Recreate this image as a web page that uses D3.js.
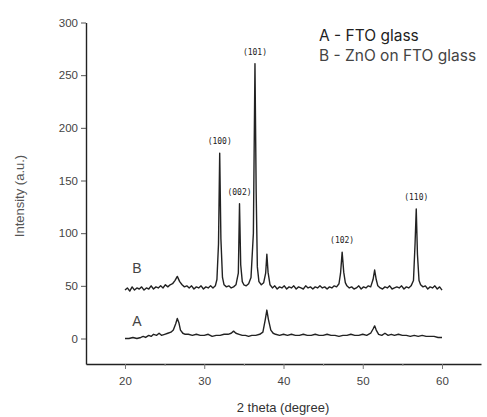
<!DOCTYPE html>
<html>
<head>
<meta charset="utf-8">
<script src="https://cdn.jsdelivr.net/npm/d3@7"></script>
<style>
  body { margin: 0; background: #fff; }
  svg { display: block; font-family: "Liberation Sans", Arial, sans-serif; }
</style>
</head>
<body>
<div id="chart"></div>
<script>
"use strict";

// === DATA: [2 theta, intensity] ===
const seriesA = [
  [20.0, 0], [20.5, 0], [21.0, 1], [21.5, 0], [22.0, 1], [22.3, 2], [22.6, 1], [23.0, 3],
  [23.3, 2], [23.6, 4], [24.0, 3], [24.3, 5], [24.6, 3], [25.0, 4], [25.4, 5], [25.8, 6],
  [26.1, 8], [26.4, 14], [26.6, 19], [26.8, 15], [27.0, 8], [27.3, 5], [27.6, 4], [28.0, 4],
  [28.5, 3], [29.0, 4], [29.5, 3], [30.0, 3], [30.5, 4], [31.0, 2], [31.5, 3], [32.0, 3],
  [32.5, 4], [33.0, 4], [33.4, 5], [33.7, 7], [34.0, 5], [34.4, 4], [34.8, 3], [35.2, 3],
  [35.6, 2], [36.0, 3], [36.5, 3], [37.0, 4], [37.4, 6], [37.7, 18], [37.9, 27], [38.1, 18],
  [38.4, 8], [38.7, 5], [39.0, 4], [39.5, 3], [40.0, 4], [40.5, 3], [41.0, 4], [41.5, 3],
  [42.0, 3], [42.5, 4], [43.0, 3], [43.5, 3], [44.0, 4], [44.5, 3], [45.0, 3], [45.5, 4],
  [46.0, 3], [46.5, 3], [47.0, 2], [47.5, 3], [48.0, 3], [48.5, 4], [49.0, 3], [49.5, 3],
  [50.0, 4], [50.5, 3], [51.0, 5], [51.3, 9], [51.5, 12], [51.7, 8], [52.0, 4], [52.4, 3],
  [52.8, 5], [53.2, 3], [53.6, 4], [54.0, 3], [54.5, 4], [55.0, 3], [55.5, 3], [56.0, 2],
  [56.5, 3], [57.0, 2], [57.5, 3], [58.0, 2], [58.5, 2], [59.0, 2], [59.5, 1], [60.0, 1]
];

const seriesB = [
  [20.0, 46], [20.3, 48], [20.6, 45], [20.9, 49], [21.2, 46], [21.5, 48], [21.8, 47], [22.1, 49],
  [22.4, 46], [22.7, 48], [23.0, 47], [23.3, 50], [23.6, 47], [23.9, 49], [24.2, 48], [24.5, 50],
  [24.8, 48], [25.1, 51], [25.4, 49], [25.7, 51], [26.0, 52], [26.3, 55], [26.6, 59], [26.9, 54],
  [27.2, 51], [27.5, 49], [27.8, 50], [28.1, 48], [28.4, 50], [28.7, 47], [29.0, 49], [29.3, 48],
  [29.6, 50], [29.9, 47], [30.2, 49], [30.5, 48], [30.8, 50], [31.1, 48], [31.4, 50], [31.6, 56],
  [31.8, 90], [31.95, 176], [32.1, 95], [32.3, 58], [32.5, 51], [32.8, 49], [33.1, 50], [33.4, 48],
  [33.7, 49], [34.0, 51], [34.3, 62], [34.45, 128], [34.6, 70], [34.8, 54], [35.0, 51], [35.3, 50],
  [35.6, 52], [35.9, 58], [36.2, 100], [36.4, 261], [36.55, 140], [36.7, 68], [36.9, 54], [37.2, 51],
  [37.5, 53], [37.75, 62], [37.9, 80], [38.05, 63], [38.3, 51], [38.6, 48], [38.9, 50], [39.2, 47],
  [39.5, 49], [39.8, 48], [40.1, 50], [40.4, 47], [40.7, 49], [41.0, 48], [41.3, 50], [41.6, 47],
  [41.9, 49], [42.2, 48], [42.5, 47], [42.8, 50], [43.1, 48], [43.4, 49], [43.7, 47], [44.0, 49],
  [44.3, 48], [44.6, 50], [44.9, 48], [45.2, 49], [45.5, 47], [45.8, 49], [46.1, 48], [46.4, 50],
  [46.7, 49], [47.0, 52], [47.2, 62], [47.4, 82], [47.6, 63], [47.8, 53], [48.0, 50], [48.3, 48],
  [48.6, 49], [48.9, 47], [49.2, 48], [49.5, 50], [49.8, 47], [50.1, 49], [50.4, 48], [50.7, 50],
  [51.0, 49], [51.3, 56], [51.5, 65], [51.7, 56], [51.9, 50], [52.2, 48], [52.5, 47], [52.8, 49],
  [53.1, 48], [53.4, 50], [53.7, 47], [54.0, 48], [54.3, 49], [54.6, 48], [54.9, 50], [55.2, 47],
  [55.5, 49], [55.8, 48], [56.1, 50], [56.4, 55], [56.6, 90], [56.75, 123], [56.9, 80], [57.1, 55],
  [57.3, 51], [57.6, 49], [57.9, 50], [58.2, 47], [58.5, 49], [58.8, 48], [59.1, 50], [59.4, 47],
  [59.7, 49], [60.0, 46]
];

// peak labels: [label, 2 theta, intensity of peak]
const peakLabels = [
  ["(100)", 31.95, 176],
  ["(002)", 34.45, 128],
  ["(101)", 36.4, 261],
  ["(102)", 47.4, 82],
  ["(110)", 56.75, 123]
];

const xTicks = [20, 30, 40, 50, 60];
const xMinorTicks = [25, 35, 45, 55];
const yTicks = [0, 50, 100, 150, 200, 250, 300];
const legendLines = ["A - FTO glass", "B - ZnO on FTO glass"];

// === SVG SETUP ===
const width = 487, height = 417;

const svg = d3.select("#chart")
  .append("svg")
  .attr("width", width)
  .attr("height", height);

// === SCALES ===
const x = d3.scaleLinear().domain([15.08, 64.92]).range([86, 481]);
const y = d3.scaleLinear().domain([-24.2, 300]).range([364, 22.5]);

// === AXES ===
const yAxis = svg.append("g")
  .attr("transform", "translate(86,0)")
  .call(d3.axisLeft(y).tickValues(yTicks).tickSize(5).tickSizeOuter(0).tickPadding(3));
yAxis.select(".domain").attr("stroke", "#222").attr("stroke-width", 1.4);
yAxis.selectAll(".tick line").attr("stroke", "#555");
yAxis.selectAll(".tick text").attr("fill", "#444").style("font-size", "11.5px");

const xAxis = svg.append("g")
  .attr("transform", "translate(0,364)")
  .call(d3.axisBottom(x).tickValues(xTicks).tickSize(5).tickSizeOuter(0).tickPadding(8));
xAxis.select(".domain").attr("stroke", "#222").attr("stroke-width", 1.4);
xAxis.selectAll(".tick line").attr("stroke", "#777");
xAxis.selectAll(".tick text").attr("fill", "#444").style("font-size", "11.5px");

svg.append("g")
  .attr("transform", "translate(0,364)")
  .call(d3.axisBottom(x).tickValues(xMinorTicks).tickSize(2).tickFormat(""))
  .call(g => g.select(".domain").remove())
  .selectAll(".tick line").attr("stroke", "#999");

// === AXIS TITLES ===
svg.append("text")
  .attr("x", 283)
  .attr("y", 412)
  .attr("text-anchor", "middle")
  .attr("fill", "#333")
  .style("font-size", "13px")
  .text("2 theta (degree)");

svg.append("text")
  .attr("transform", "translate(24,196) rotate(-90)")
  .attr("text-anchor", "middle")
  .attr("fill", "#555")
  .style("font-size", "13px")
  .text("Intensity (a.u.)");

// === LINES ===
const line = d3.line().x(d => x(d[0])).y(d => y(d[1]));

[seriesA, seriesB].forEach(s => {
  svg.append("path")
    .datum(s)
    .attr("d", line)
    .attr("fill", "none")
    .attr("stroke", "#222")
    .attr("stroke-width", 1.4)
    .attr("stroke-linejoin", "round");
});

// === PEAK LABELS ===
svg.selectAll(".peak")
  .data(peakLabels)
  .enter()
  .append("text")
  .attr("class", "peak")
  .attr("x", d => x(d[1]))
  .attr("y", d => y(d[2]) - 9)
  .attr("text-anchor", "middle")
  .attr("fill", "#222")
  .style("font-family", "'DejaVu Sans Mono', monospace")
  .style("font-size", "8px")
  .text(d => d[0]);

// === CURVE LETTERS ===
svg.append("text")
  .attr("x", 137).attr("y", 273)
  .attr("text-anchor", "middle")
  .attr("fill", "#444")
  .style("font-size", "14px")
  .text("B");

svg.append("text")
  .attr("x", 137).attr("y", 326)
  .attr("text-anchor", "middle")
  .attr("fill", "#444")
  .style("font-size", "14px")
  .text("A");

// === LEGEND TEXT ===
legendLines.forEach((t, i) => {
  svg.append("text")
    .attr("x", 319)
    .attr("y", 41 + i * 20)
    .attr("fill", i === 0 ? "#222" : "#444")
    .style("font-family", "Inter, 'Open Sans', sans-serif")
    .style("font-size", "15.5px")
    .text(t);
});
</script>
</body>
</html>
